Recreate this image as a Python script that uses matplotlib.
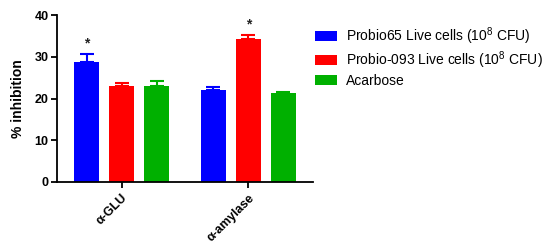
import matplotlib
matplotlib.use("Agg")
import matplotlib.pyplot as plt
import numpy as np

plt.rcParams['font.family'] = ['Liberation Sans', 'DejaVu Sans']
plt.rcParams['mathtext.fontset'] = 'custom'
plt.rcParams['mathtext.rm'] = 'Liberation Sans'
plt.rcParams['mathtext.it'] = 'Liberation Sans'

categories = ["α-GLU", "α-amylase"]
series_names = ["Probio65 Live cells (10$^{8}$ CFU)",
                "Probio-093 Live cells (10$^{8}$ CFU)",
                "Acarbose"]
probio65 = [28.8, 22.0]
probio65_err = [1.9, 0.7]
probio093 = [23.0, 34.3]
probio093_err = [0.7, 1.0]
acarbose = [23.0, 21.3]
acarbose_err = [1.2, 0.3]
colors = ["#0000ff", "#ff0000", "#00b000"]
significance = [["*", ""], ["", "*"], ["", ""]]

values = [probio65, probio093, acarbose]
errors = [probio65_err, probio093_err, acarbose_err]

fig = plt.figure(figsize=(5.5, 2.48), dpi=100)
ax = fig.add_axes([57/550, 1-182/248, 256/550, 167/248])

x = np.arange(len(categories))
offset = 35/127
width = 25/127
for i, (vals, errs, c) in enumerate(zip(values, errors, colors)):
    pos = x + (i - 1) * offset
    ax.bar(pos, vals, width=width, color=c, label=series_names[i], zorder=2)
    ax.errorbar(pos, vals, yerr=[np.zeros(len(errs)), errs], fmt='none',
                ecolor=c, elinewidth=1.5, capsize=5, capthick=1.5, zorder=3)
    for j, s in enumerate(significance[i]):
        if s:
            ax.text(pos[j], vals[j] + errs[j] + 2.4, s, ha='center', va='center',
                    fontsize=10, fontweight='bold', color='#222222')

ax.set_xlim(-0.508, 1.508)
ax.set_ylim(0, 40)
ax.set_yticks([0, 10, 20, 30, 40])
ax.set_xticks(x)
ax.set_xticklabels(categories, rotation=45, ha='right', va='top',
                   rotation_mode='anchor', fontsize=9, fontweight='bold')
ax.tick_params(axis='y', labelsize=9, width=1.3, length=4, pad=2)
ax.tick_params(axis='x', width=1.3, length=4, pad=3)
for lbl in ax.get_yticklabels():
    lbl.set_fontweight('bold')
ax.spines['top'].set_visible(False)
ax.spines['right'].set_visible(False)
ax.spines['left'].set_linewidth(1.3)
ax.spines['bottom'].set_linewidth(1.3)
ax.set_ylabel("% inhibition", fontsize=10, fontweight='bold', labelpad=7)

ax.legend(loc='upper left', bbox_to_anchor=(315/550, 1-25/248),
          bbox_transform=fig.transFigure, frameon=False, fontsize=10,
          borderpad=0, borderaxespad=0, labelspacing=0.2,
          handlelength=1.55, handleheight=0.7, handletextpad=0.65)

fig.savefig("out.png", dpi=100)
